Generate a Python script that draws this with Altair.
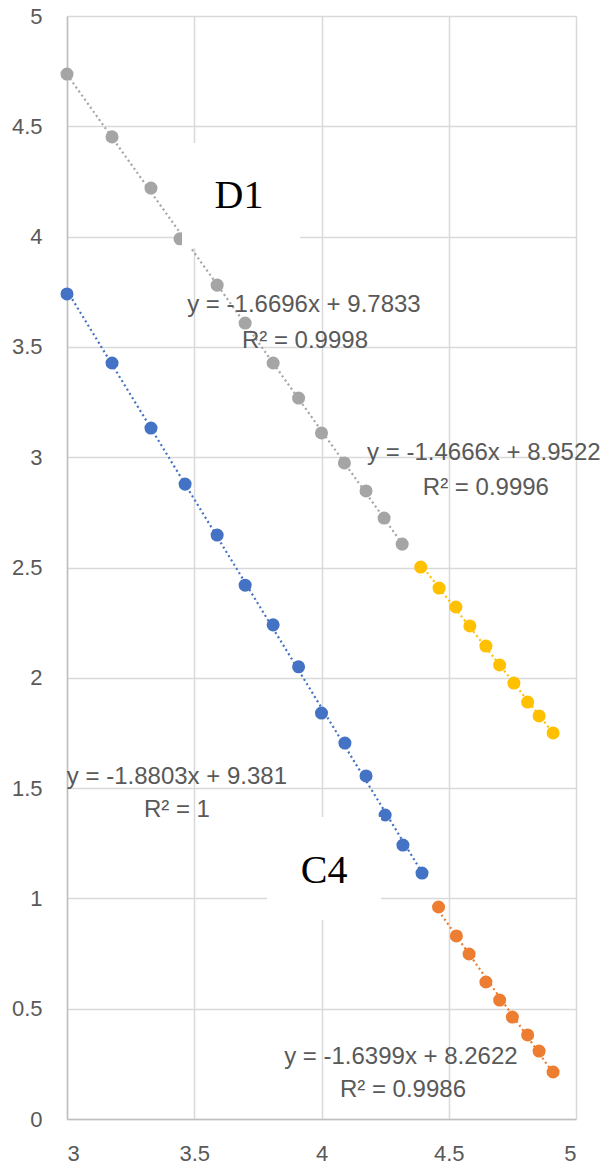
import altair as alt
import pandas as pd

# ---- data ----
gray_x = [3.00, 3.177, 3.33, 3.444, 3.59, 3.70, 3.81, 3.91, 4.00, 4.09, 4.175, 4.246, 4.317]
gray_y = [4.737, 4.452, 4.22, 3.99, 3.78, 3.608, 3.427, 3.268, 3.11, 2.974, 2.847, 2.724, 2.606]

yellow_x = [4.39, 4.462, 4.528, 4.583, 4.646, 4.70, 4.756, 4.81, 4.855, 4.91]
yellow_y = [2.502, 2.407, 2.321, 2.235, 2.144, 2.058, 1.976, 1.89, 1.827, 1.75]

blue_x = [3.00, 3.177, 3.33, 3.464, 3.59, 3.70, 3.81, 3.91, 4.00, 4.092, 4.175, 4.25, 4.32, 4.395]
blue_y = [3.74, 3.427, 3.132, 2.878, 2.647, 2.42, 2.24, 2.05, 1.84, 1.704, 1.555, 1.378, 1.242, 1.115]

orange_x = [4.46, 4.53, 4.58, 4.646, 4.70, 4.75, 4.81, 4.855, 4.91]
orange_y = [0.961, 0.83, 0.748, 0.621, 0.539, 0.462, 0.381, 0.308, 0.213]

series_names = ["gray", "yellow", "blue", "orange"]
series_colors = ["#A5A5A5", "#FFC000", "#4472C4", "#ED7D31"]

x_ticks = [3, 3.5, 4, 4.5, 5]
y_ticks = [0, 0.5, 1, 1.5, 2, 2.5, 3, 3.5, 4, 4.5, 5]

eq_texts = ["y = -1.6696x + 9.7833", "R² = 0.9998",
            "y = -1.4666x + 8.9522", "R² = 0.9996",
            "y = -1.8803x + 9.381", "R² = 1",
            "y = -1.6399x + 8.2622", "R² = 0.9986"]
eq_x = [3.931, 3.935, 4.638, 4.646, 3.432, 3.432, 4.312, 4.320]
eq_y = [3.690, 3.527, 3.019, 2.860, 1.550, 1.401, 0.281, 0.131]

big_labels = ["D1", "C4"]
big_x = [3.676, 4.01]
big_y = [4.13, 1.07]
box_x1 = [3.452, 3.786]
box_x2 = [3.916, 4.234]
box_y1 = [3.948, 0.902]
box_y2 = [4.424, 1.369]

# ---- tables ----
rows = []
for name, xs, ys in [("gray", gray_x, gray_y), ("yellow", yellow_x, yellow_y),
                     ("blue", blue_x, blue_y), ("orange", orange_x, orange_y)]:
    for a, b in zip(xs, ys):
        rows.append({"series": name, "x": a, "y": b})
df = pd.DataFrame(rows)
eq_df = pd.DataFrame({"t": eq_texts, "x": eq_x, "y": eq_y})
big_df = pd.DataFrame({"t": big_labels, "x": big_x, "y": big_y,
                       "x1": box_x1, "x2": box_x2, "y1": box_y1, "y2": box_y2})

FONT = "Liberation Sans"
TXT = "#595959"
xscale = alt.Scale(domain=[3, 5], nice=False, zero=False)
yscale = alt.Scale(domain=[0, 5], nice=False, zero=False)
color = alt.Color("series:N", scale=alt.Scale(domain=series_names, range=series_colors), legend=None)

X = alt.X("x:Q", scale=xscale,
          axis=alt.Axis(values=x_ticks, format="~g", title=None, tickSize=0,
                        labelPadding=24, grid=True, labelFont=FONT, labelFontSize=22,
                        labelColor=TXT, gridColor="#d9d9d9", gridWidth=1.5,
                        domainColor="#bfbfbf", domainWidth=1.5))
Y = alt.Y("y:Q", scale=yscale,
          axis=alt.Axis(values=y_ticks, format="~g", title=None, tickSize=0,
                        labelPadding=25, grid=True, labelFont=FONT, labelFontSize=22,
                        labelColor=TXT, gridColor="#d9d9d9", gridWidth=1.5,
                        domainColor="#bfbfbf", domainWidth=1.5))

base = alt.Chart(df)

trend = base.transform_regression("x", "y", groupby=["series"]).mark_line(
    strokeDash=[2, 3], strokeWidth=2.2
).encode(x=X, y=Y, color=color)

points = base.mark_circle(size=170, opacity=1).encode(
    x=alt.X("x:Q", scale=xscale), y=alt.Y("y:Q", scale=yscale), color=color)

boxes = alt.Chart(big_df).mark_rect(color="white").encode(
    x=alt.X("x1:Q", scale=xscale), x2="x2:Q",
    y=alt.Y("y1:Q", scale=yscale), y2="y2:Q")

big_text = alt.Chart(big_df).mark_text(
    font="Liberation Serif", fontSize=40, color="black", align="center", baseline="alphabetic"
).encode(x=alt.X("x:Q", scale=xscale), y=alt.Y("y:Q", scale=yscale), text="t:N")

eq_text = alt.Chart(eq_df).mark_text(
    font=FONT, fontSize=24, color=TXT, align="center", baseline="middle"
).encode(x=alt.X("x:Q", scale=xscale), y=alt.Y("y:Q", scale=yscale), text="t:N")

chart = alt.layer(trend, points, boxes, big_text, eq_text).properties(
    width=509, height=1103,
    background="white",
    autosize=alt.AutoSizeParams(type="none"),
    padding={"left": 67, "top": 16, "right": 35, "bottom": 50},
).configure_view(stroke=None)

chart.save("out.html", embed_options={"renderer": "svg", "actions": False})
